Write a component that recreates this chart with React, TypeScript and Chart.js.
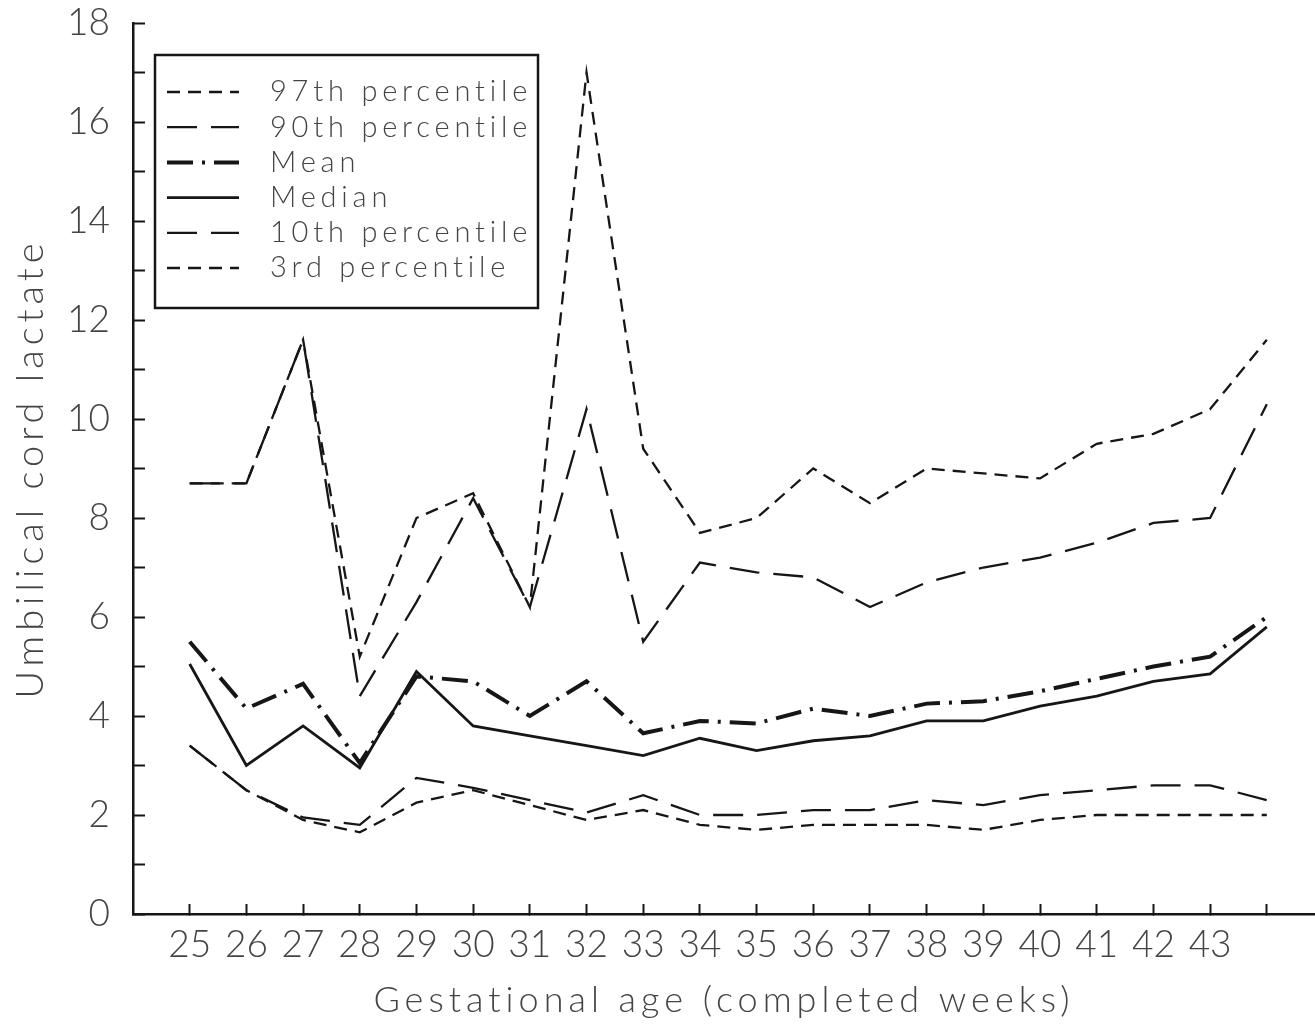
import React, { useEffect, useRef } from 'react';
import { Chart, registerables } from 'chart.js';

Chart.register(...registerables);

// ---- data ----
const weeks = [25, 26, 27, 28, 29, 30, 31, 32, 33, 34, 35, 36, 37, 38, 39, 40, 41, 42, 43, 44];
const xTickLabels = ['25', '26', '27', '28', '29', '30', '31', '32', '33', '34', '35', '36', '37', '38', '39', '40', '41', '42', '43', ''];
const p97 = [8.7, 8.7, 11.6, 5.2, 8.0, 8.5, 6.2, 17.0, 9.4, 7.7, 8.0, 9.0, 8.3, 9.0, 8.9, 8.8, 9.5, 9.7, 10.2, 11.6];
const p90 = [8.7, 8.7, 11.6, 4.4, 6.3, 8.4, 6.2, 10.2, 5.5, 7.1, 6.9, 6.8, 6.2, 6.7, 7.0, 7.2, 7.5, 7.9, 8.0, 10.3];
const meanVals = [5.5, 4.15, 4.65, 3.05, 4.8, 4.7, 4.0, 4.7, 3.65, 3.9, 3.85, 4.15, 4.0, 4.25, 4.3, 4.5, 4.75, 5.0, 5.2, 6.0];
const medianVals = [5.05, 3.0, 3.8, 2.95, 4.9, 3.8, 3.6, 3.4, 3.2, 3.55, 3.3, 3.5, 3.6, 3.9, 3.9, 4.2, 4.4, 4.7, 4.85, 5.8];
const p10 = [3.4, 2.5, 1.95, 1.8, 2.75, 2.55, 2.3, 2.05, 2.4, 2.0, 2.0, 2.1, 2.1, 2.3, 2.2, 2.4, 2.5, 2.6, 2.6, 2.3];
const p3 = [3.4, 2.5, 1.9, 1.65, 2.25, 2.5, 2.2, 1.9, 2.1, 1.8, 1.7, 1.8, 1.8, 1.8, 1.7, 1.9, 2.0, 2.0, 2.0, 2.0];
const seriesLabels = ['97th percentile', '90th percentile', 'Mean', 'Median', '10th percentile', '3rd percentile'];
const yMin = 0;
const yMax = 18;
const xMin = 24;
const xMax = 44.85;

const LINE = '#161616';
const TEXT = '#444444';
const FONT = 'Lato, "DejaVu Sans", sans-serif';

const toPoints = (vals: number[]) => vals.map((v, i) => ({ x: weeks[i], y: v }));

const shortDash = [13, 8];
const longDash = [30, 14];
const dashDot = [26, 9, 3, 9];

const spacingPlugin = {
  id: 'spacingAndLegend',
  beforeDraw(chart: any) {
    chart.ctx.letterSpacing = '5px';
  },
  afterDatasetsDraw(chart: any) {
    const { ctx, chartArea } = chart;
    ctx.letterSpacing = '0px';
    const x0 = chartArea.left + 22;
    const y0 = chartArea.top + 32;
    const w = 383;
    const h = 253;
    ctx.save();
    ctx.setLineDash([]);
    ctx.lineWidth = 2.5;
    ctx.strokeStyle = LINE;
    ctx.strokeRect(x0, y0, w, h);
    chart.data.datasets.forEach((ds: any, i: number) => {
      const cy = y0 + 37 + i * 35.2;
      ctx.save();
      ctx.setLineDash(ds.borderDash || []);
      ctx.lineWidth = ds.borderWidth;
      ctx.strokeStyle = ds.borderColor;
      ctx.beginPath();
      ctx.moveTo(x0 + 12, cy);
      ctx.lineTo(x0 + 84, cy);
      ctx.stroke();
      ctx.restore();
      ctx.font = '300 29px ' + FONT;
      ctx.fillStyle = TEXT;
      ctx.letterSpacing = '4.8px';
      ctx.textBaseline = 'middle';
      ctx.textAlign = 'left';
      ctx.fillText(ds.label, x0 + 115, cy);
    });
    ctx.restore();
  },
  afterDraw(chart: any) {
    chart.ctx.letterSpacing = '0px';
  },
};

export default function App() {
  const canvasRef = useRef<HTMLCanvasElement | null>(null);

  useEffect(() => {
    const canvas = canvasRef.current;
    if (!canvas) return;
    const mk = (label: string, vals: number[], width: number, dash: number[]) => ({
      label,
      data: toPoints(vals),
      borderColor: LINE,
      backgroundColor: LINE,
      borderWidth: width,
      borderDash: dash,
      pointRadius: 0,
      pointHoverRadius: 0,
      tension: 0,
      fill: false,
      borderCapStyle: 'butt',
      borderJoinStyle: 'miter',
    });
    const chart = new Chart(canvas, {
      type: 'line',
      data: {
        datasets: [
          mk(seriesLabels[0], p97, 2.3, shortDash),
          mk(seriesLabels[1], p90, 2.3, longDash),
          mk(seriesLabels[2], meanVals, 4, dashDot),
          mk(seriesLabels[3], medianVals, 2.8, []),
          mk(seriesLabels[4], p10, 2.3, longDash),
          mk(seriesLabels[5], p3, 2.3, shortDash),
        ] as any,
      },
      options: {
        animation: false,
        responsive: false,
        devicePixelRatio: 1,
        layout: { padding: { top: 23, right: 0, bottom: 0, left: 0 } },
        plugins: {
          legend: { display: false },
          tooltip: { enabled: false },
        },
        scales: {
          x: {
            type: 'linear',
            min: xMin,
            max: xMax,
            afterBuildTicks: (axis: any) => {
              axis.ticks = weeks.map((v) => ({ value: v }));
            },
            afterFit: (axis: any) => {
              axis.height = 114;
              axis.paddingLeft = 0;
              axis.paddingRight = 0;
            },
            grid: {
              drawOnChartArea: false,
              drawTicks: true,
              tickLength: -10,
              tickWidth: 2,
              tickColor: LINE,
              color: LINE,
            },
            border: { display: true, width: 2.5, color: LINE },
            ticks: {
              autoSkip: false,
              maxRotation: 0,
              padding: 19,
              color: TEXT,
              z: 1,
              font: { family: FONT, size: 37, weight: '300' },
              callback: (value: any) => {
                const idx = weeks.indexOf(Number(value));
                return idx >= 0 ? xTickLabels[idx] : '';
              },
            },
            title: {
              display: true,
              text: 'Gestational age (completed weeks)',
              color: TEXT,
              font: { family: FONT, size: 36, weight: '300' },
              padding: { top: 0, bottom: 6 },
            },
          },
          y: {
            type: 'linear',
            min: yMin,
            max: yMax,
            afterFit: (axis: any) => {
              axis.width = 133;
              axis.paddingTop = 0;
              axis.paddingBottom = 0;
            },
            grid: {
              drawOnChartArea: false,
              drawTicks: true,
              tickLength: -12,
              tickWidth: 2,
              tickColor: LINE,
              color: LINE,
            },
            border: { display: true, width: 2.5, color: LINE },
            ticks: {
              stepSize: 1,
              autoSkip: false,
              padding: 35,
              color: TEXT,
              z: 1,
              font: { family: FONT, size: 37, weight: '300' },
              callback: (value: any) => (Number(value) % 2 === 0 ? String(value) : ''),
            },
            title: {
              display: true,
              text: 'Umbilical cord lactate',
              color: TEXT,
              font: { family: FONT, size: 38, weight: '300' },
              padding: { top: 8, bottom: 0 },
            },
          },
        },
      },
      plugins: [spacingPlugin as any],
    });
    return () => chart.destroy();
  }, []);

  return (
    <div style={{ position: 'absolute', left: 0, top: 0, width: 1315, height: 1028, background: '#fff' }}>
      <canvas ref={canvasRef} width={1315} height={1028} style={{ display: 'block' }} />
    </div>
  );
}
